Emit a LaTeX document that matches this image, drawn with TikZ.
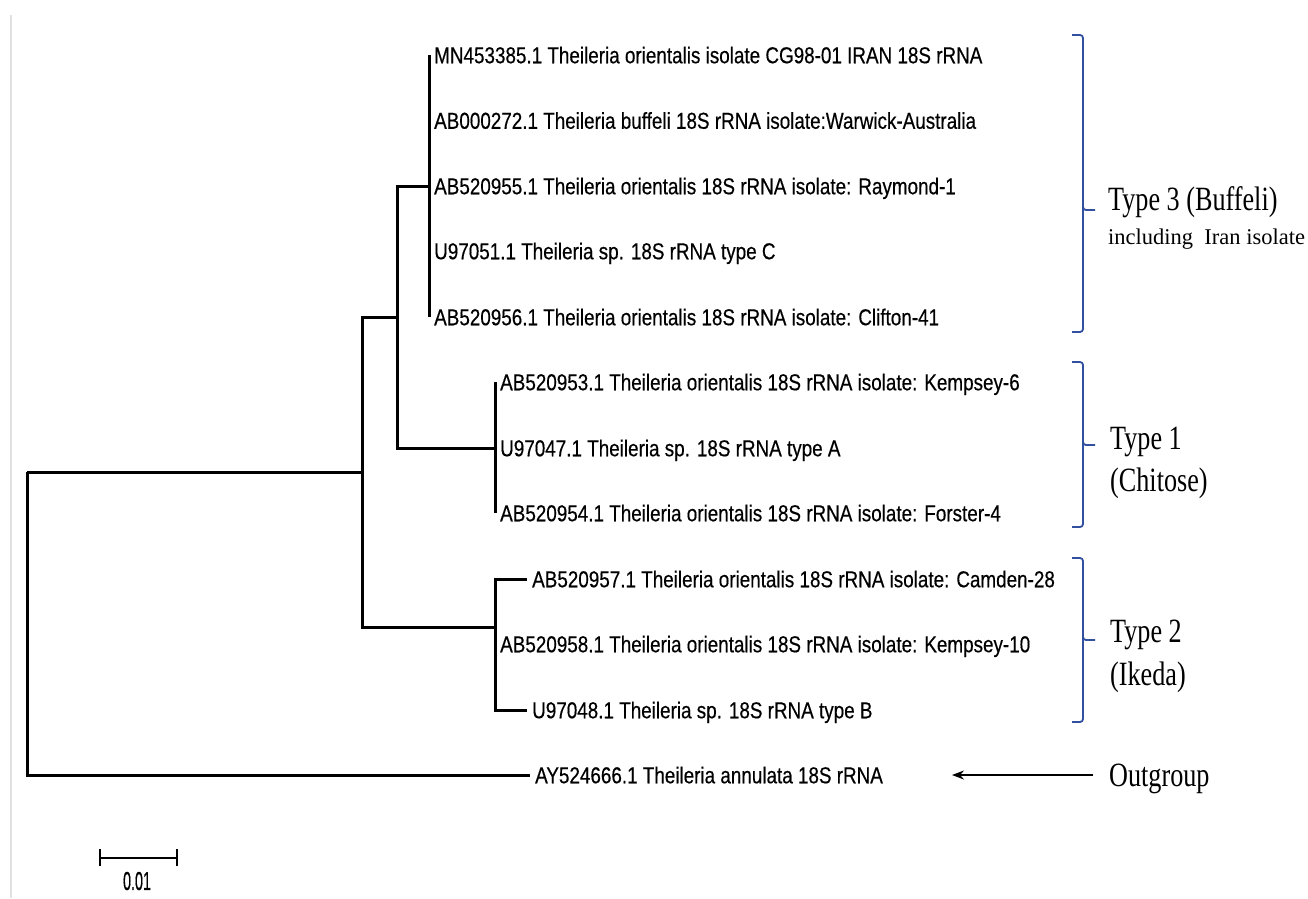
\documentclass[tikz,border=0pt]{standalone}
\usepackage{fontspec}
\setmainfont{Liberation Serif}
\newfontfamily\leaffont[FakeStretch=0.82,FakeBold=0.4]{Liberation Sans}
\newfontfamily\barfont[FakeStretch=0.55,FakeBold=0.4]{Liberation Sans}
\newfontfamily\typefont[FakeStretch=0.77]{Liberation Serif}
\usetikzlibrary{arrows.meta,positioning}
\definecolor{braceblue}{RGB}{50,80,160}
\definecolor{framegrey}{RGB}{225,225,225}

\begin{document}
\begin{tikzpicture}[x=1pt,y=-1pt,
    branch/.style={line width=3pt},
    leaf/.style={anchor=west,inner xsep=5pt,inner ysep=0pt,text height=16.5pt,text depth=0pt,
      font=\leaffont\fontsize{23}{26}\selectfont},
    cladebrace/.style={braceblue,line width=1.8pt,rounded corners=3pt},
    typelabel/.style={anchor=base west,inner sep=0pt,font=\typefont\fontsize{34}{38}\selectfont}]
  \useasboundingbox (0,0) rectangle (1308,898);
  % left frame line
  \draw[framegrey,line width=2pt] (10.5,15) -- (10.5,898);
  % internal nodes
  \coordinate (root) at (27,472);
  \coordinate (nX) at (362,472);
  \coordinate (nA) at (397,317);
  \coordinate (n3) at (429,186);
  \coordinate (n1) at (495,448);
  \coordinate (n2) at (495,627);
  % type 3 leaves
  \foreach \nm/\yy/\txt in {
      t3a/55/{MN453385.1 Theileria orientalis isolate CG98-01 IRAN 18S rRNA},
      t3b/120.5/{AB000272.1 Theileria buffeli 18S rRNA isolate:Warwick-Australia},
      t3c/186/{AB520955.1 Theileria orientalis 18S rRNA isolate: Raymond-1},
      t3d/251/{U97051.1 Theileria sp. 18S rRNA type C},
      t3e/317/{AB520956.1 Theileria orientalis 18S rRNA isolate: Clifton-41}}{
    \node[leaf] (\nm) at (429,\yy) {\txt};
    \draw[branch] (n3) |- (\nm.west);
  }
  % type 1 leaves
  \foreach \nm/\yy/\txt in {
      t1a/382/{AB520953.1 Theileria orientalis 18S rRNA isolate: Kempsey-6},
      t1b/448/{U97047.1 Theileria sp. 18S rRNA type A},
      t1c/513/{AB520954.1 Theileria orientalis 18S rRNA isolate: Forster-4}}{
    \node[leaf] (\nm) at (495,\yy) {\txt};
    \draw[branch] (n1) |- (\nm.west);
  }
  % type 2 leaves
  \foreach \nm/\xx/\yy/\txt in {
      t2a/527/579/{AB520957.1 Theileria orientalis 18S rRNA isolate: Camden-28},
      t2b/495/644/{AB520958.1 Theileria orientalis 18S rRNA isolate: Kempsey-10},
      t2c/527/710/{U97048.1 Theileria sp. 18S rRNA type B}}{
    \node[leaf] (\nm) at (\xx,\yy) {\txt};
    \draw[branch] (n2) |- (\nm.west);
  }
  % outgroup leaf
  \node[leaf] (out) at (530,775) {AY524666.1 Theileria annulata 18S rRNA};
  % inner branches
  \draw[branch] (root) -- (nX);
  \draw[branch] (root) |- (out.west);
  \draw[branch] (nX) |- (nA);
  \draw[branch] (nX) |- (n2);
  \draw[branch] (nA) |- (n3);
  \draw[branch] (nA) |- (n1);
  % scale bar
  \coordinate (sb1) at (100,858);
  \coordinate (sb2) at (177,858);
  \draw[line width=2.6pt] (sb1) -- (sb2);
  \draw[line width=2.6pt] ([yshift=-8]sb1) -- ([yshift=9]sb1);
  \draw[line width=2.6pt] ([yshift=-8]sb2) -- ([yshift=9]sb2);
  \node[font=\barfont\fontsize{26}{28}\selectfont,inner sep=0pt] (sblbl) at (137,881) {0.01};
  % clade braces
  \draw[cladebrace] (1072,35) -| (1083,210) -- (1095,210);
  \draw[cladebrace] (1083,205) |- (1072,332);
  \draw[cladebrace] (1072,362) -| (1083,445) -- (1095,445);
  \draw[cladebrace] (1083,440) |- (1072,527);
  \draw[cladebrace] (1072,558) -| (1083,640) -- (1095,640);
  \draw[cladebrace] (1083,635) |- (1072,722);
  % clade labels
  \node[typelabel] (t3lbl) at (1108,210) {Type 3 (Buffeli)};
  \node[typelabel,font=\fontsize{22.5}{26}\selectfont] (t3sub) at (1108,244) {including\ \ Iran isolate};
  \node[typelabel] (t1lbl) at (1110,449) {Type 1};
  \node[typelabel] (t1sub) at (1110,491) {(Chitose)};
  \node[typelabel] (t2lbl) at (1110,642) {Type 2};
  \node[typelabel] (t2sub) at (1110,685) {(Ikeda)};
  % outgroup pointer
  \coordinate (outtip) at (952,775);
  \node[typelabel,anchor=west,inner xsep=16pt,text height=23pt,text depth=0pt] (outlbl) at (1093,775) {Outgroup};
  \draw[line width=1.5pt,-{Stealth[length=12pt,width=9pt]}] (outlbl.west) -- (outtip);
\end{tikzpicture}
\end{document}
